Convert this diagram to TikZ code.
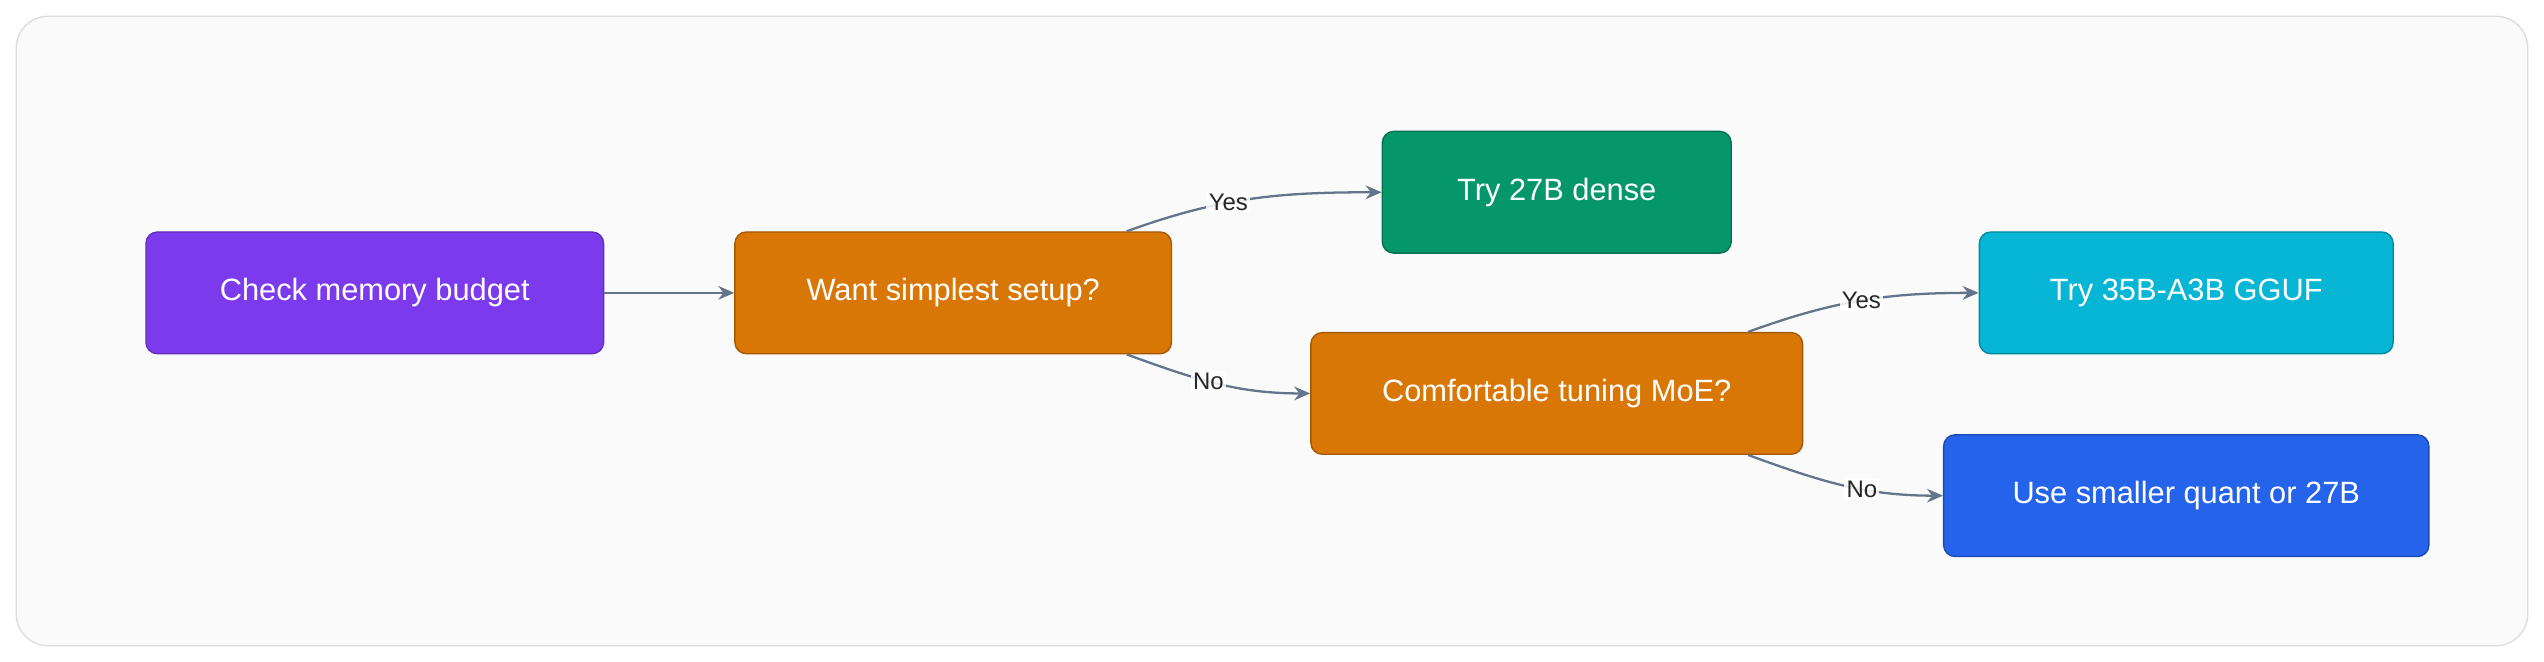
\documentclass[tikz,border=0pt]{standalone}
\usepackage{fontspec}
\setmainfont{Liberation Sans}
\usetikzlibrary{positioning, arrows.meta}
\definecolor{purp}{HTML}{7C3AED}
\definecolor{orng}{HTML}{D97706}
\definecolor{grn}{HTML}{059669}
\definecolor{cyn}{HTML}{06B6D4}
\definecolor{blu}{HTML}{2563EB}
\definecolor{edge}{HTML}{64748B}
\begin{document}
\begin{tikzpicture}[x=0.025cm, y=-0.025cm]
        \tikzstyle{box} = [rectangle, rounded corners=5pt, minimum height=1.875cm, text centered, text=white, font=\fontsize{13.5}{16}\selectfont, line width=0.6pt]
        \tikzstyle{arrow} = [draw=edge, line width=1pt, -{Stealth[length=7pt, width=6pt]}]
        \tikzstyle{lbl} = [fill=white, fill opacity=0.85, text opacity=1, inner sep=1pt, font=\fontsize{10.5}{12}\selectfont, text=black!85]

        \useasboundingbox (0,0) rectangle (1568,408);
        \draw[draw=blue!8!gray!25, fill=gray!4, rounded corners=14pt, line width=0.6pt] (10,10) rectangle (1558,398);

        \node (budget) [box, fill=purp, draw=purp!80!black, minimum width=7.05cm] at (231,180.5) {Check memory budget};
        \node (simple) [box, fill=orng, draw=orng!75!black, minimum width=6.725cm] at (587.5,180.5) {Want simplest setup?};
        \node (dense) [box, fill=grn, draw=grn!75!black, minimum width=5.375cm] at (959.5,118.5) {Try 27B dense};
        \node (moe) [box, fill=orng, draw=orng!75!black, minimum width=7.575cm] at (959.5,242.5) {Comfortable tuning MoE?};
        \node (gguf) [box, fill=cyn, draw=cyn!75!black, minimum width=6.375cm] at (1347.5,180.5) {Try 35B-A3B GGUF};
        \node (quant) [box, fill=blu, draw=blu!75!black, minimum width=7.475cm] at (1347.5,305.5) {Use smaller quant or 27B};

        \draw [arrow] (budget) -- (simple);
        \draw [arrow] ([xshift=-0.7cm]simple.north east) to[out=20, in=180] node[lbl, pos=0.4] {Yes} (dense.west);
        \draw [arrow] ([xshift=-0.7cm]simple.south east) to[out=-20, in=180] node[lbl, pos=0.45] {No} (moe.west);
        \draw [arrow] ([xshift=-0.85cm]moe.north east) to[out=20, in=180] node[lbl, pos=0.5] {Yes} (gguf.west);
        \draw [arrow] ([xshift=-0.85cm]moe.south east) to[out=-20, in=180] node[lbl, pos=0.6] {No} (quant.west);
\end{tikzpicture}
\end{document}
